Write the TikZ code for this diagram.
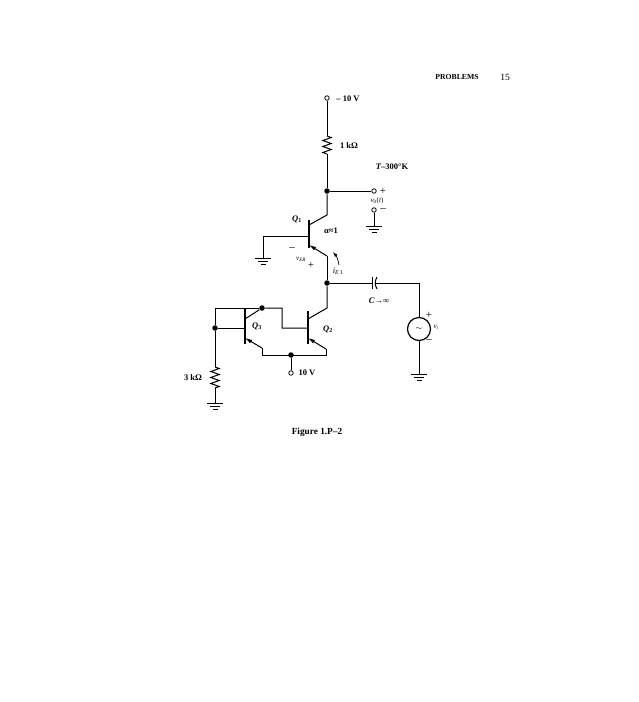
\documentclass[tikz,border=0pt]{standalone}
\usepackage{fontspec}
\setmainfont{Liberation Serif}
\usetikzlibrary{
  arrows.meta,
  decorations.pathmorphing,
}

\begin{document}
\begin{tikzpicture}[
  x=1pt,y=-1pt,
  line width=1pt,
  font=\fontsize{8.5}{10}\selectfont,
  term/.style={circle,draw,fill=white,inner sep=0pt,minimum size=4.5pt,line width=0.8pt},
  junc/.style={circle,fill=black,inner sep=0pt,minimum size=5.5pt},
  label/.style={inner sep=0pt},
  small/.style={inner sep=0pt,font=\fontsize{7}{8}\selectfont},
  sign/.style={inner sep=0pt,font=\fontsize{11}{11}\selectfont},
  bold/.style={inner sep=0pt,font=\fontsize{8.5}{10}\selectfont\bfseries},
  bar/.style={line width=1.6pt},
  emit/.style={-{Latex[length=7pt,width=4pt]}},
  res/.style={decorate,decoration={zigzag,segment length=6pt,amplitude=4.2pt}},
  gnd/.pic={
    \draw (-8,0) -- (8,0);
    \draw (-5,3) -- (5,3);
    \draw (-2.5,6) -- (2.5,6);
  },
]
   \useasboundingbox (0,0) rectangle (638,702);
   \node[label,font=\fontsize{7.7}{9}\selectfont\bfseries] (head) at (457,77) {PROBLEMS};
   \node[label,font=\fontsize{9.5}{10}\selectfont] (page) at (505,77) {15};

   % supply and Q1
   \node[term] (vtop) at (327,98) {};
   \coordinate (r1a) at (327,136);
   \coordinate (r1b) at (327,154);
   \node[junc] (jout) at (327,191) {};
   \node[term] (vop) at (374,191) {};
   \node[term] (vom) at (374,210) {};
   \coordinate (g1) at (374,226);
   \coordinate (q1t) at (309,220);
   \coordinate (q1b) at (309,248);
   \coordinate (q1base) at (309,236);
   \coordinate (q1c) at (309,225);
   \coordinate (q1e) at (309,245);
   \coordinate (q1cc) at (327,215);
   \coordinate (q1ee) at (327,256);
   \coordinate (g2top) at (263,236);
   \coordinate (g2) at (263,258);
   \node[junc] (jmid) at (327,283) {};
   \draw (vtop) -- (r1a);
   \draw[res] (r1a) -- (r1b);
   \draw (r1b) -- (jout) -- (vop);
   \draw (jout) -- (q1cc) -- (q1c);
   \draw[bar] (q1t) -- (q1b);
   \draw (q1base) -- (g2top) -- (g2);
   \draw[emit] (q1ee) -- (q1e);
   \draw (q1ee) -- (jmid);
   \draw (vom) -- (g1);
   \pic at (g1) {gnd};
   \pic at (g2) {gnd};

   % coupling capacitor and source
   \coordinate (c1) at (372,283);
   \coordinate (c2) at (375,283);
   \coordinate (vs1) at (419,283);
   \node[circle,draw,minimum size=23pt,inner sep=0pt,line width=1.2pt] (src) at (419,329) {$\sim$};
   \coordinate (g3) at (419,374);
   \draw (jmid) -- (c1);
   \draw (372,277) -- (372,289);
   \draw (377,277) to[bend right=30] (377,289);
   \draw (c2) -- (vs1) -- (src);
   \draw (src) -- (g3);
   \pic at (g3) {gnd};

   % Q2 and Q3
   \coordinate (q2t) at (308,311);
   \coordinate (q2b) at (308,344);
   \coordinate (q2base) at (308,328);
   \coordinate (q2c) at (308,319);
   \coordinate (q2e) at (308,338);
   \coordinate (q2cc) at (327,308);
   \coordinate (q2ee) at (326,349);
   \coordinate (tie1) at (282,328);
   \coordinate (tie2) at (282,308);
   \node[junc] (jcol) at (262,308) {};
   \coordinate (left) at (215,308);
   \node[junc] (jbase) at (215,328) {};
   \coordinate (q3t) at (245,309);
   \coordinate (q3b) at (245,344);
   \coordinate (q3base) at (245,328);
   \coordinate (q3c) at (245,319);
   \coordinate (q3e) at (245,338);
   \coordinate (q3ee) at (262,348);
   \coordinate (low3) at (262,355);
   \coordinate (low2) at (326,355);
   \node[junc] (jlow) at (291,355) {};
   \node[term] (vbot) at (291,373) {};
   \coordinate (r3a) at (215,367);
   \coordinate (r3b) at (215,388);
   \coordinate (g4) at (215,403);
   \draw (jmid) -- (q2cc) -- (q2c);
   \draw[bar] (q2t) -- (q2b);
   \draw (q2base) -- (tie1) -- (tie2) -- (jcol) -- (q3c);
   \draw (jcol) -- (left) -- (jbase) -- (r3a);
   \draw (jbase) -- (q3base);
   \draw[bar] (q3t) -- (q3b);
   \draw[emit] (q3ee) -- (q3e);
   \draw[emit] (q2ee) -- (q2e);
   \draw (q3ee) -- (low3) -- (low2) -- (q2ee);
   \draw (jlow) -- (vbot);
   \draw[res] (r3a) -- (r3b);
   \draw (r3b) -- (g4);
   \pic at (g4) {gnd};

   % current arrow
   \coordinate (ia) at (339,265);
   \coordinate (ib) at (333,252);
   \draw[-{Latex[length=5pt,width=3.5pt]},line width=0.7pt] (ia) to[bend right=15] (ib);

   % labels
   \node[bold] (vtoplab) at (348,99) {– 10 V};
   \node[bold] (r1lab) at (349,146) {1 kΩ};
   \node[bold] (tlab) at (392,167) {\textit{T}–300°K};
   \node[sign] (voplus) at (383,191) {+};
   \node[small] (volab) at (377,201) {\textit{v}\textsubscript{0}(\textit{t})};
   \node[sign] (vominus) at (383,210) {–};
   \node[bold] (q1lab) at (297,219) {\textit{Q}\textsubscript{1}};
   \node[bold] (alab) at (331,231) {α≈1};
   \node[sign] (vebm) at (292,249) {–};
   \node[small] (veb) at (301,259) {\textit{v}\textsubscript{\textit{EB}}};
   \node[sign] (vebp) at (311,265) {+};
   \node[label] (ielab) at (338,271) {\textit{i}\textsubscript{\textit{E}\,1}};
   \node[bold] (clab) at (379,301) {\textit{C}→∞};
   \node[bold] (q3lab) at (257,326) {\textit{Q}\textsubscript{3}};
   \node[bold] (q2lab) at (328,329) {\textit{Q}\textsubscript{2}};
   \node[sign] (splus) at (429,315) {+};
   \node[small] (slab) at (436,327) {\textit{v}\textsubscript{\textit{i}}};
   \node[sign] (sminus) at (429,341) {–};
   \node[bold] (r3lab) at (193,378) {3 kΩ};
   \node[bold] (vbotlab) at (307,373) {10 V};
   \node[inner sep=0pt,font=\fontsize{9.3}{10}\selectfont\bfseries] (figlab) at (317,432) {Figure 1.P–2};
\end{tikzpicture}
\end{document}
